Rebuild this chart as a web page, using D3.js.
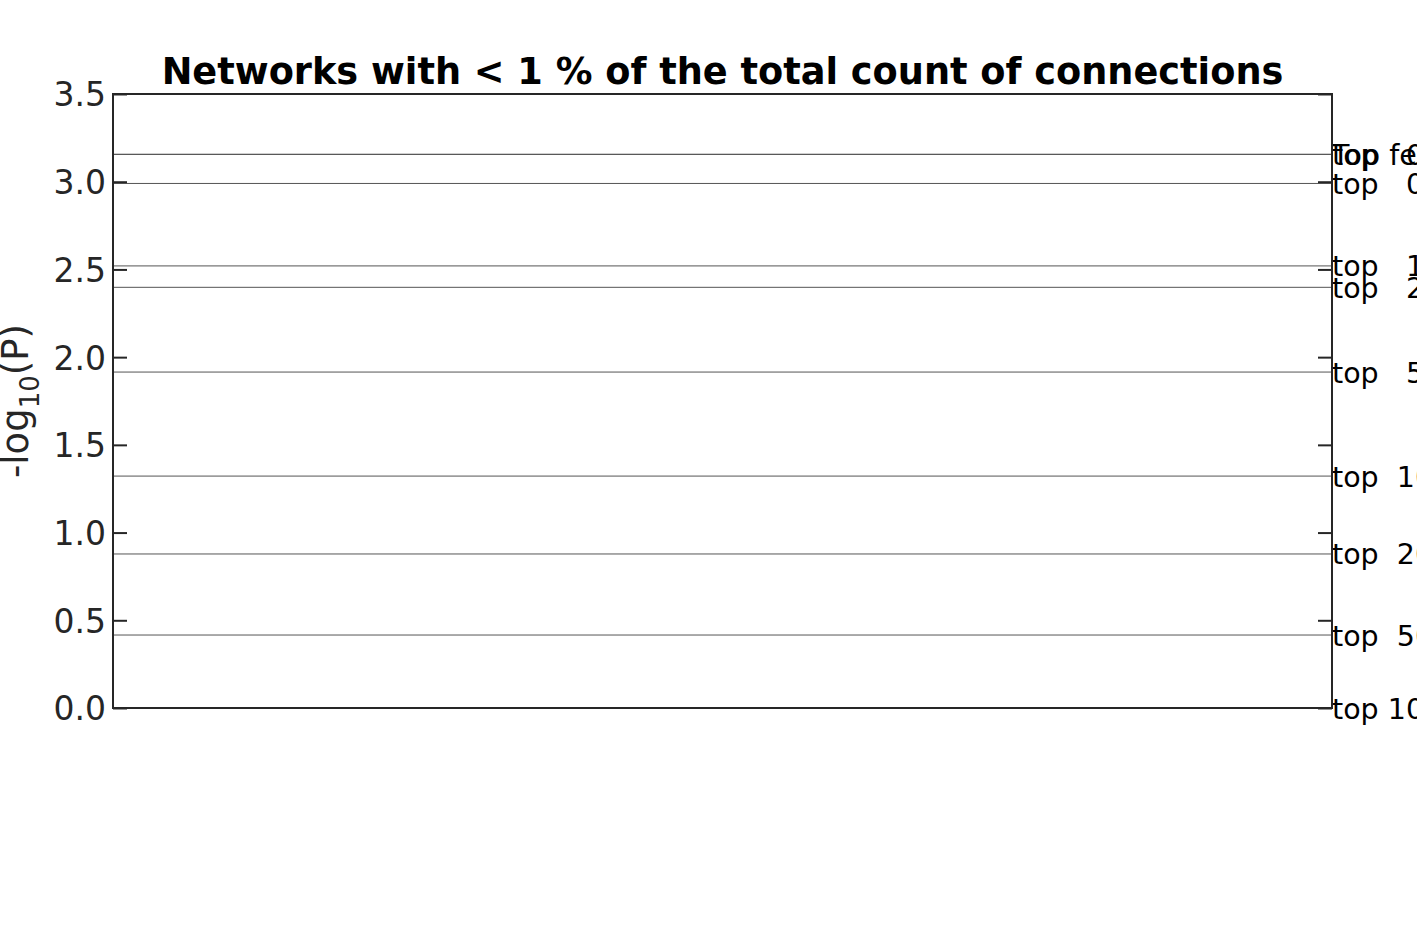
<!DOCTYPE html>
<html>
<head>
<meta charset="utf-8">
<script src="https://cdn.jsdelivr.net/npm/d3@7"></script>
<style>
  body { margin: 0; background: #fff; }
  text { font-family: "DejaVu Sans", sans-serif; }
</style>
</head>
<body>
<div id="chart"></div>
<script>
// threshold lines, -log10(P) for each cut-off
var levels = [3.156, 3.156, 2.99, 2.52, 2.398, 1.915, 1.322, 0.878, 0.416, 0.0];
var labels = ['Top features', 'top   0.1%', 'top   0.5%', 'top   1%', 'top   2%',
              'top   5%', 'top  10%', 'top  20%', 'top  50%', 'top 100%'];
var yTicks = [0.0, 0.5, 1.0, 1.5, 2.0, 2.5, 3.0, 3.5];

var W = 1417, H = 945;
var margin = {left: 113, right: 85, top: 94, bottom: 237};

var svg = d3.select('#chart').append('svg')
    .attr('width', W)
    .attr('height', H);

var y = d3.scaleLinear().domain([0, 3.5]).range([H - margin.bottom, margin.top]);
var x0 = margin.left, x1 = W - margin.right;

// horizontal threshold lines
svg.append('g').selectAll('line')
    .data(levels)
    .enter()
    .append('line')
    .attr('x1', x0)
    .attr('x2', x1)
    .attr('y1', function (d) { return y(d); })
    .attr('y2', function (d) { return y(d); })
    .attr('stroke', '#555')
    .attr('stroke-width', 1);

// labels on the right, they run off the page like in the original
svg.append('g').selectAll('text')
    .data(levels)
    .enter()
    .append('text')
    .attr('x', x1)
    .attr('y', function (d) { return y(d) + 1; })
    .attr('dominant-baseline', 'central')
    .attr('font-size', '28.5px')
    .attr('fill', '#000')
    .style('white-space', 'pre')
    .text(function (d, i) { return labels[i]; });

// left axis, ticks pointing inward
var left = svg.append('g')
    .attr('transform', 'translate(' + x0 + ',0)')
    .call(d3.axisLeft(y).tickValues(yTicks).tickFormat(d3.format('.1f'))
        .tickSizeInner(-14).tickSizeOuter(0).tickPadding(7));
left.select('.domain').remove();
left.selectAll('.tick line').attr('stroke', '#262626').attr('stroke-width', 2);
left.selectAll('.tick text').attr('font-size', '33px').attr('fill', '#262626')
    .attr('font-family', 'DejaVu Sans').attr('dy', '0.36em');

// right side ticks, no labels
var right = svg.append('g')
    .attr('transform', 'translate(' + x1 + ',0)')
    .call(d3.axisRight(y).tickValues(yTicks).tickFormat('')
        .tickSizeInner(-14).tickSizeOuter(0));
right.select('.domain').remove();
right.selectAll('.tick line').attr('stroke', '#262626').attr('stroke-width', 2);

// frame
svg.append('rect')
    .attr('x', x0)
    .attr('y', margin.top)
    .attr('width', x1 - x0)
    .attr('height', H - margin.bottom - margin.top)
    .attr('fill', 'none')
    .attr('stroke', '#262626')
    .attr('stroke-width', 2);

// title
svg.append('text')
    .attr('x', (x0 + x1) / 2)
    .attr('y', 84)
    .attr('text-anchor', 'middle')
    .attr('font-size', '36.7px')
    .attr('font-weight', 'bold')
    .attr('fill', '#000')
    .text('Networks with < 1 % of the total count of connections');

// y label with subscript
var yl = svg.append('text')
    .attr('transform', 'translate(28,' + ((margin.top + H - margin.bottom) / 2) + ') rotate(-90)')
    .attr('text-anchor', 'middle')
    .attr('font-size', '37px')
    .attr('fill', '#262626');
yl.append('tspan').text('-log');
yl.append('tspan').attr('font-size', '26px').attr('dy', 11).text('10');
yl.append('tspan').attr('dy', -11).text('(P)');
</script>
</body>
</html>
